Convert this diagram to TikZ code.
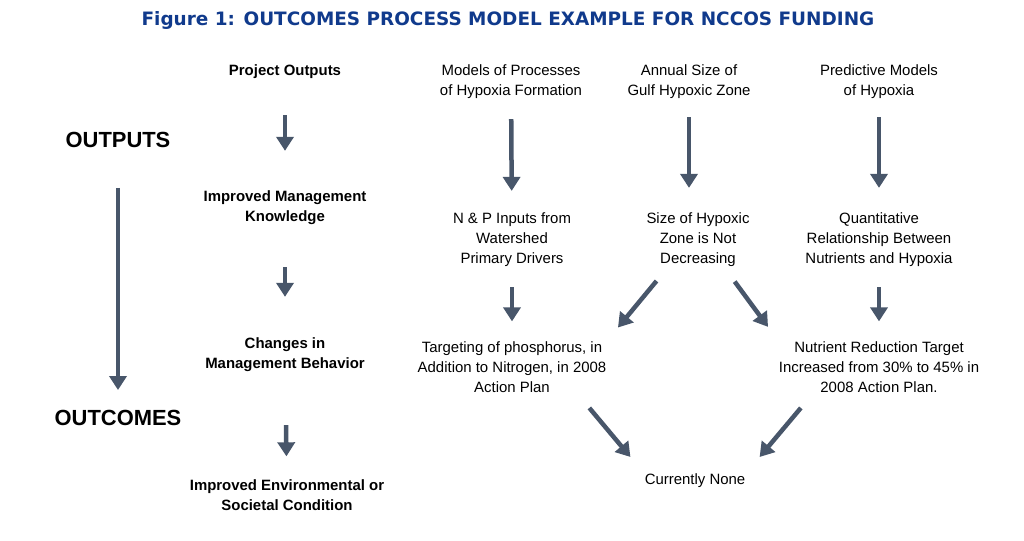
\documentclass[tikz,border=0pt]{standalone}
\usepackage{fontspec}
\setmainfont{Liberation Sans}
\newfontfamily\titlefont{DejaVu Sans}
\usetikzlibrary{arrows.meta}
\definecolor{titleblue}{RGB}{16,58,140}
\definecolor{arrowgray}{RGB}{72,86,106}
\tikzset{
  txt/.style={align=center, inner sep=0pt, font=\fontsize{15}{20}\selectfont},
  lbl/.style={txt, font=\fontsize{15}{20}\selectfont\bfseries},
  big/.style={inner sep=0pt, font=\fontsize{22}{24}\selectfont\bfseries},
  arr/.style={draw=arrowgray, line width=4.5bp, -{Triangle[length=14bp,width=17bp]}}
}
\begin{document}
\begin{tikzpicture}[x=1bp,y=-1bp]
\useasboundingbox (0,0) rectangle (1024,541);

\node[inner sep=0pt, text=titleblue, font=\titlefont\fontsize{18.5}{22}\selectfont\bfseries] (title) at (508,20) {Figure 1: OUTCOMES PROCESS MODEL EXAMPLE FOR NCCOS FUNDING};
\node[big] (outputs) at (118,140) {OUTPUTS};
\node[big] (outcomes) at (118,418) {OUTCOMES};

% left labels
\node[lbl] (po) at (285,72) {Project Outputs};
\node[lbl] (imk) at (285,208) {Improved Management\\Knowledge};
\node[lbl] (cmb) at (285,355) {Changes in\\Management Behavior};
\node[lbl] (iec) at (287,495) {Improved Environmental or\\Societal Condition};

% first row
\node[txt] (mp) at (511,82) {Models of Processes\\of Hypoxia Formation};
\node[txt] (as) at (689,82) {Annual Size of\\Gulf Hypoxic Zone};
\node[txt] (pm) at (879,82) {Predictive Models\\of Hypoxia};

% second row
\node[txt] (np) at (512,240) {N \& P Inputs from\\Watershed\\Primary Drivers};
\node[txt] (sz) at (698,240) {Size of Hypoxic\\Zone is Not\\Decreasing};
\node[txt] (qr) at (879,240) {Quantitative\\Relationship Between\\Nutrients and Hypoxia};

% third row
\node[txt] (tp) at (512,367) {Targeting of phosphorus, in\\Addition to Nitrogen, in 2008\\Action Plan};
\node[txt] (nr) at (879,367) {Nutrient Reduction Target\\Increased from 30\% to 45\% in\\2008 Action Plan.};

\node[txt] (cn) at (695,481) {Currently None};

% arrows
\draw[arr, shorten <=40bp, shorten >=20bp] (outputs) -- (outcomes);
\draw[arr, shorten <=36bp, shorten >=40bp] (po) -- (imk);
\draw[arr, shorten <=42bp, shorten >=41bp] (imk) -- (cmb);
\draw[arr, shorten <=53bp, shorten >=23bp] (cmb) -- (iec);

\draw[arr, shorten <=20bp, shorten >=22bp] (mp) -- (np);
\draw[arr, shorten <=18bp, shorten >=25bp] (as) -- (as |- sz.north);
\draw[arr, shorten <=18bp, shorten >=25bp] (pm) -- (qr);

\draw[arr, shorten <=20bp, shorten >=20bp] (np) -- (tp);
\draw[arr, shorten <=18bp, shorten >=18bp] ([xshift=-30bp]sz.south) -- (tp.north east);
\draw[arr, shorten <=18bp, shorten >=18bp] ([xshift=26bp]sz.south) -- (nr.north west);
\draw[arr, shorten <=20bp, shorten >=20bp] (qr) -- (nr);

\draw[arr, shorten <=20bp, shorten >=22bp] ([xshift=-30bp]tp.south east) -- (cn.north west);
\draw[arr, shorten <=20bp, shorten >=22bp] ([xshift=35bp]nr.south west) -- (cn.north east);
\end{tikzpicture}
\end{document}
